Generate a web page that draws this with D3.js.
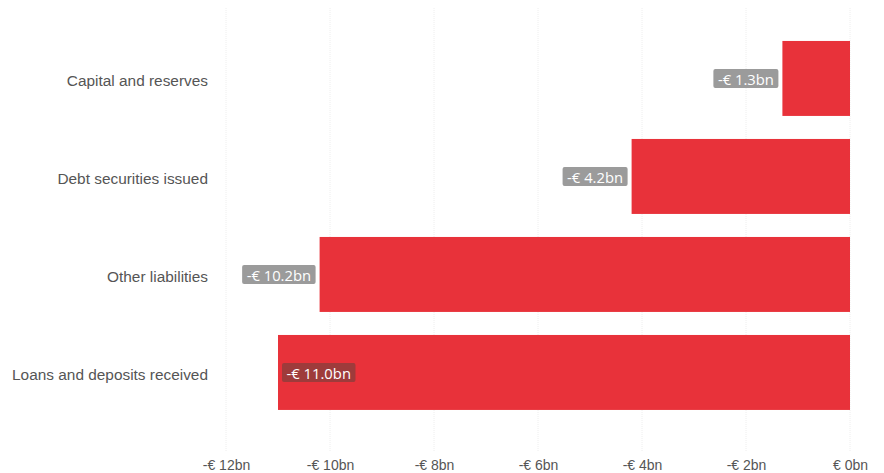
<!DOCTYPE html>
<html>
<head>
<meta charset="utf-8">
<script src="https://cdn.jsdelivr.net/npm/d3@7"></script>
<style>
  html, body { margin: 0; padding: 0; background: #fff; }
  svg { display: block; font-family: "Open Sans", "Noto Sans", sans-serif; }
</style>
</head>
<body>
<svg id="chart" width="884" height="473"></svg>
<script>
// Balance-sheet liability changes, € billions
const categories = ["Capital and reserves", "Debt securities issued", "Other liabilities", "Loans and deposits received"];
const values = [-1.3, -4.2, -10.2, -11.0];
const tickValues = [-12, -10, -8, -6, -4, -2, 0];
const tickLabels = ["-€ 12bn", "-€ 10bn", "-€ 8bn", "-€ 6bn", "-€ 4bn", "-€ 2bn", "€ 0bn"];

const data = categories.map((c, i) => ({ category: c, value: values[i] }));

const svg = d3.select("#chart");
const margin = { left: 226, right: 34 };
const width = 884;

const x = d3.scaleLinear().domain([-12, 0]).range([margin.left, width - margin.right]);
const y = d3.scaleBand().domain(categories).range([29.2, 421.7]).paddingInner(0.235).paddingOuter(0.12);

// vertical gridlines
svg.append("g")
  .selectAll("line")
  .data(tickValues)
  .join("line")
  .attr("x1", d => x(d)).attr("x2", d => x(d))
  .attr("y1", 8).attr("y2", 452)
  .attr("stroke", "#eeeeee")
  .attr("stroke-width", 1)
  .attr("stroke-dasharray", "1,1");

// x axis
const xAxis = d3.axisBottom(x).tickValues(tickValues).tickFormat((d, i) => tickLabels[i]).tickSize(0).tickPadding(0);
const gx = svg.append("g").attr("transform", `translate(0, 457)`).call(xAxis);
gx.select(".domain").remove();
gx.selectAll("text").attr("fill", "#555").attr("font-size", 14).attr("dy", "0.95em");

// y axis labels
const yAxis = d3.axisLeft(y).tickSize(0).tickPadding(18);
const gy = svg.append("g").attr("transform", `translate(${margin.left}, 2.5)`).call(yAxis);
gy.select(".domain").remove();
gy.selectAll("text").attr("fill", "#555").attr("font-size", 15.4);

// bars
svg.append("g")
  .selectAll("rect")
  .data(data)
  .join("rect")
  .attr("x", d => x(d.value))
  .attr("width", d => x(0) - x(d.value))
  .attr("y", d => y(d.category))
  .attr("height", y.bandwidth())
  .attr("fill", "#e8323a");

// value labels with background boxes
const fmt = v => (v < 0 ? "-€ " : "€ ") + Math.abs(v).toFixed(1) + "bn";
const labels = svg.append("g").selectAll("g").data(data).join("g");
labels.each(function(d) {
  const g = d3.select(this);
  const t = g.append("text")
    .text(fmt(d.value))
    .attr("font-size", 14.8)
    .attr("fill", "#fff")
    .attr("dominant-baseline", "central");
  const w = t.node().getComputedTextLength();
  const boxW = w + 9, boxH = 19;
  const cy = y(d.category) + y.bandwidth() / 2;
  const xb = x(d.value);
  const outside = xb - boxW - 4 >= margin.left + 8;
  const bx = outside ? xb - boxW - 4 : xb + 4;
  g.insert("rect", "text")
    .attr("x", bx).attr("y", cy - boxH / 2)
    .attr("width", boxW).attr("height", boxH)
    .attr("rx", 2)
    .attr("fill", outside ? "#9b9b9b" : "#9e3b3b");
  t.attr("x", bx + 4.5).attr("y", cy + 0.5);
});
</script>
</body>
</html>
